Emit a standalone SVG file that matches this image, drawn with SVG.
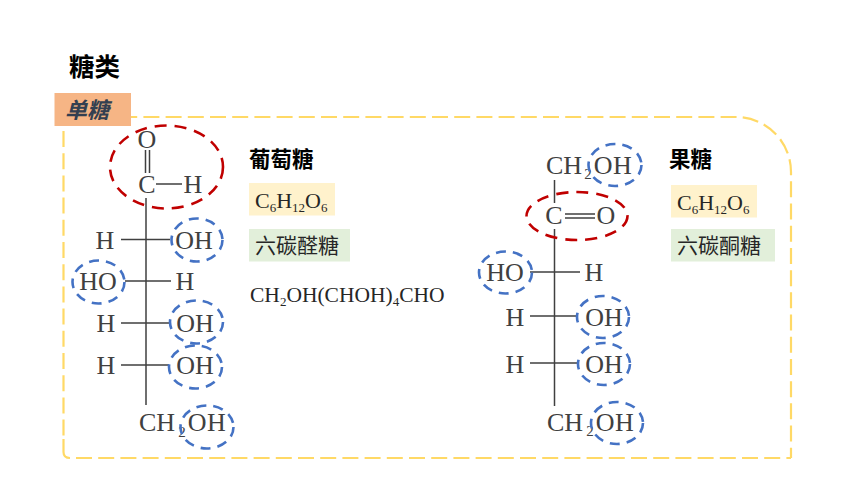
<svg xmlns="http://www.w3.org/2000/svg" width="860" height="484" viewBox="0 0 860 484">
<style>
text{font-family:"Liberation Serif","Noto Sans CJK SC",serif}
.cjk{font-family:"Liberation Sans","Noto Sans CJK SC",sans-serif}
.b{font-weight:700;fill:#000}
.atom{font-size:26px;fill:#404040;text-anchor:middle}
.l{text-anchor:start}
.f{font-size:22px;fill:#262626}
.z{font-size:21px;fill:#262626}
.sub{font-size:13px}
.s2{font-size:15px}
.ls{letter-spacing:.5px}
.bond{stroke:#404040;stroke-width:1.500;fill:none}
.red{fill:none;stroke:#c00000;stroke-width:2.600;stroke-dasharray:12 8}
.blue{fill:none;stroke:#4472c4;stroke-width:2.600;stroke-dasharray:10 7}
.y{fill:#fff2cc}.g{fill:#e2efda}
.fr{fill:none;stroke:#ffd966;stroke-width:2.200;stroke-dasharray:16 6.200}
</style>
<rect width="860" height="484" fill="#fff"/>
<g id="frame">
<path class="fr" d="M63.500 131V439"/>
<path class="fr" d="M63.500 439V452Q63.500 458 70 458" style="stroke-dasharray:none"/>
<path class="fr" d="M76 458H791"/>
<path class="fr" d="M121.200 117H736A55 55 0 0 1 791 172V458"/>
</g>
<g id="title"><text class="cjk b" x="69" y="76" font-size="25.500">糖类</text></g>
<g id="tag"><rect x="54.500" y="93" width="76.500" height="33" fill="#f6b585"/><text class="cjk" x="65" y="118" font-size="22" font-weight="700" font-style="italic" fill="#333f50">单糖</text></g>
<g id="connectors">
<path class="bond" d="M146 198V405M145.500 150V173M149.500 150V173M156 184H182M121 239.500H170M125 281H171M121 323H170M121 365H169"/>
<path class="bond" d="M554.500 180V203M554.500 229V406M565 214H595M565 218H595M530 272H580M530 316H578M530 363H578"/>
</g>
<g id="glucose">
<text class="atom" x="147" y="148">O</text><text class="atom" x="147" y="193">C</text><text class="atom" x="193" y="193">H</text>
<text class="atom" x="105" y="249">H</text><text class="atom" x="194" y="249">OH</text>
<text class="atom" x="98" y="290">HO</text><text class="atom" x="185" y="290">H</text>
<text class="atom" x="106" y="332">H</text><text class="atom" x="195" y="332">OH</text>
<text class="atom" x="106" y="374">H</text><text class="atom" x="195" y="374">OH</text>
<text class="atom l" x="139" y="431">CH<tspan class="s2" dx="3" dy="6">2</tspan><tspan class="ls" dx="2" dy="-6">OH</tspan></text>
<ellipse class="red" cx="166.500" cy="167" rx="56.500" ry="41.500"/>
<ellipse class="blue" cx="197" cy="240" rx="25.500" ry="21.500"/>
<ellipse class="blue" cx="98.500" cy="282" rx="26" ry="21.500"/>
<ellipse class="blue" cx="196.500" cy="322" rx="26.500" ry="21.500"/>
<ellipse class="blue" cx="195.500" cy="367" rx="26.500" ry="21.500"/>
<ellipse class="blue" cx="207" cy="427" rx="26.500" ry="21.500"/>
</g>
<g id="glucose-info">
<text class="cjk b" x="249" y="167" font-size="21.500">葡萄糖</text>
<rect class="y" x="249" y="183" width="86" height="32.500"/>
<text class="f" x="255" y="208">C<tspan class="sub" dy="4">6</tspan><tspan dy="-4">H</tspan><tspan class="sub" dy="4">12</tspan><tspan dy="-4">O</tspan><tspan class="sub" dy="4">6</tspan></text>
<rect class="g" x="249" y="229" width="101" height="32.500"/>
<text class="cjk z" x="255" y="253">六碳醛糖</text>
<text class="f" x="250" y="302" style="font-size:21.500px">CH<tspan class="sub" dy="4">2</tspan><tspan dy="-4">OH(CHOH)</tspan><tspan class="sub" dy="4">4</tspan><tspan dy="-4">CHO</tspan></text>
</g>
<g id="fructose">
<text class="atom l" x="546" y="174">CH<tspan class="s2" dx="2" dy="5">2</tspan><tspan class="ls" dx="2" dy="-5">OH</tspan></text>
<text class="atom" x="554" y="224">C</text><text class="atom" x="606" y="224">O</text>
<text class="atom" x="505" y="281">HO</text><text class="atom" x="594" y="281">H</text>
<text class="atom" x="515" y="326">H</text><text class="atom" x="604" y="326">OH</text>
<text class="atom" x="515" y="373">H</text><text class="atom" x="604" y="373">OH</text>
<text class="atom l" x="547" y="431">CH<tspan class="s2" dx="3" dy="5">2</tspan><tspan class="ls" dx="2" dy="-5">OH</tspan></text>
<ellipse class="red" cx="577" cy="216" rx="50.500" ry="24"/>
<ellipse class="blue" cx="615" cy="165" rx="26.500" ry="21"/>
<ellipse class="blue" cx="505.500" cy="272.500" rx="26.500" ry="21"/>
<ellipse class="blue" cx="603" cy="317" rx="26" ry="21"/>
<ellipse class="blue" cx="604" cy="364" rx="26" ry="21"/>
<ellipse class="blue" cx="617" cy="423" rx="26" ry="21"/>
</g>
<g id="fructose-info">
<text class="cjk b" x="669" y="167" font-size="21.500">果糖</text>
<rect class="y" x="671" y="185" width="86" height="32.500"/>
<text class="f" x="677" y="210">C<tspan class="sub" dy="4">6</tspan><tspan dy="-4">H</tspan><tspan class="sub" dy="4">12</tspan><tspan dy="-4">O</tspan><tspan class="sub" dy="4">6</tspan></text>
<rect class="g" x="671" y="229" width="104" height="32.500"/>
<text class="cjk z" x="677" y="253">六碳酮糖</text>
</g>
</svg>
